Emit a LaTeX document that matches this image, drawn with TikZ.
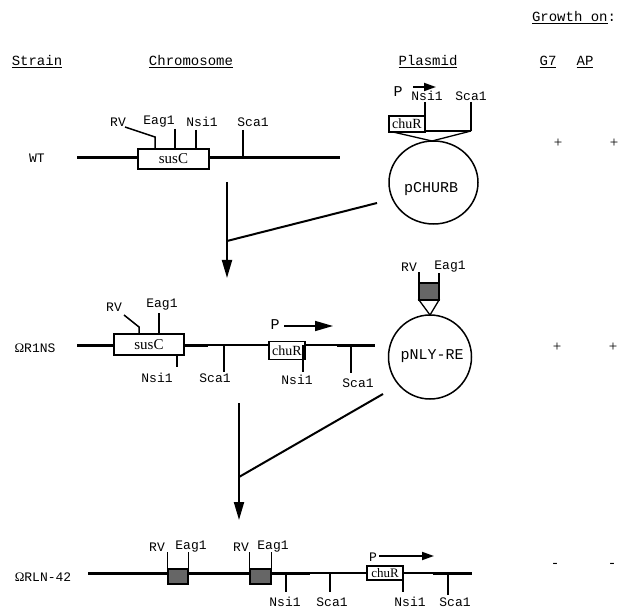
\documentclass[tikz,border=0pt]{standalone}
\usepackage{fontspec}
\setmainfont{Liberation Serif}
\setmonofont{Liberation Mono}
\usetikzlibrary{arrows.meta,shapes.geometric}
\begin{document}
\begin{tikzpicture}[x=1pt,y=-1pt,
  lbl/.style={font=\ttfamily\fontsize{13}{13}\selectfont, inner sep=0pt},
  hdr/.style={font=\ttfamily\fontsize{14}{14}\selectfont, inner sep=0pt},
  pname/.style={font=\ttfamily\fontsize{15}{15}\selectfont, inner sep=0pt},
  thickline/.style={line width=3pt},
  thinline/.style={line width=1.3pt},
  tickline/.style={line width=1.5pt},
  gbox/.style={draw, fill=white, line width=1.6pt, inner sep=0pt, font=\fontsize{15}{15}\selectfont},
  shadebox/.style={draw, fill=black!60, line width=1.3pt, inner sep=0pt},
  plasmid/.style={draw, ellipse, line width=1.5pt, inner sep=0pt, font=\ttfamily\fontsize{15}{15}\selectfont},
  flow/.style={line width=2pt},
  flowarrow/.style={line width=2pt, -{Triangle[length=18pt,width=10pt]}},
  parrow/.style={line width=1.8pt, -{Triangle[length=12pt,width=8pt]}},
  growth/.style={font=\fontsize{15}{15}\selectfont, inner sep=0pt}
]
\useasboundingbox (0,0) rectangle (636,609);

% ---------- header ----------
\node[hdr] (hgrowth) at (574,18) {\underline{Growth on}:};
\node[hdr] (hstrain) at (37,62) {\underline{Strain}};
\node[hdr] (hchrom) at (191,62) {\underline{Chromosome}};
\node[hdr] (hplas) at (428,62) {\underline{Plasmid}};
\node[hdr] (hg7) at (548,62) {\underline{G7}};
\node[hdr] (hap) at (585,62) {\underline{AP}};

% ---------- row 1: WT ----------
\node[lbl] (wt) at (37,158) {WT};
\coordinate (w1a) at (77,158);
\coordinate (w1b) at (340,158);
\draw[thickline] (w1a) -- (w1b);
\node[gbox, minimum width=71pt, minimum height=20pt] (sus1) at (173.5,159) {susC};
\coordinate (rv1a) at (125,127);
\coordinate (rv1b) at (155,137);
\coordinate (rv1c) at (155,149);
\draw[tickline] (rv1a) -- (rv1b) -- (rv1c);
\node[lbl] (rv1) at (118,122) {RV};
\coordinate (e1a) at (175,129); \coordinate (e1b) at (175,149);
\draw[tickline] (e1a) -- (e1b);
\node[lbl] (eag1) at (159,122) {Eag1};
\coordinate (n1a) at (196,130); \coordinate (n1b) at (196,149);
\draw[tickline] (n1a) -- (n1b);
\node[lbl] (nsi1) at (202,122) {Nsi1};
\coordinate (s1a) at (243,130); \coordinate (s1b) at (243,158);
\draw[tickline] (s1a) -- (s1b);
\node[lbl] (sca1) at (253,122) {Sca1};

% plasmid pCHURB
\node[plasmid, minimum width=89pt, minimum height=83pt] (p1) at (433.5,182.5) {};
\node[pname] (p1name) at (431,189) {pCHURB};
\coordinate (p1top) at (432,141);
\coordinate (c1a) at (425,131);
\coordinate (c1b) at (471,131);
\draw[thinline] (c1a) -- (c1b);
\coordinate (v1a) at (393,132);
\draw[thinline] (v1a) -- (p1top) -- (c1b);
\node[gbox, line width=2pt, minimum width=36pt, minimum height=16pt, font=\fontsize{14}{14}\selectfont] (chu1) at (407,124) {chuR};
\coordinate (pn1a) at (425,102);
\draw[tickline] (pn1a) -- (c1a);
\coordinate (ps1a) at (471,102);
\draw[tickline] (ps1a) -- (c1b);
\node[lbl] (pnsi1) at (427,96) {Nsi1};
\node[lbl] (psca1) at (471,96) {Sca1};
\node[pname] (pp1) at (398,92) {P};
\coordinate (pa1a) at (413,87); \coordinate (pa1b) at (436,87);
\draw[parrow] (pa1a) -- (pa1b);

% growth row 1
\node[growth] (g1a) at (558,143) {+};
\node[growth] (g1b) at (614,143) {+};

% arrow 1 and join
\coordinate (a1s) at (227,182);
\coordinate (a1e) at (227,278);
\draw[flowarrow] (a1s) -- (a1e);
\coordinate (j1) at (227,241);
\coordinate (j1p) at (377,203);
\draw[flow] (j1p) -- (j1);

% ---------- row 2: Omega R1NS ----------
\node[lbl] (r1ns) at (35,348) {{\rmfamily Ω}R1NS};
\coordinate (l2a) at (77,345);
\coordinate (l2b) at (208,345);
\coordinate (l2c) at (337,345);
\coordinate (l2d) at (375,345);
\draw[thickline] (l2a) -- (l2b);
\draw[thinline] (l2b) -- (l2c);
\draw[thickline] (l2c) -- (l2d);
\node[gbox, minimum width=70pt, minimum height=21pt] (sus2) at (149,344.5) {susC};
\coordinate (rv2a) at (124,315);
\coordinate (rv2b) at (139,327);
\coordinate (rv2c) at (139,334);
\draw[tickline] (rv2a) -- (rv2b) -- (rv2c);
\node[lbl] (rv2) at (114,307) {RV};
\coordinate (e2a) at (159,313); \coordinate (e2b) at (159,334);
\draw[tickline] (e2a) -- (e2b);
\node[lbl] (eag2) at (162,305) {Eag1};
\coordinate (n2a) at (177,355); \coordinate (n2b) at (177,367);
\draw[tickline] (n2a) -- (n2b);
\node[lbl] (nsi2) at (157,378) {Nsi1};
\coordinate (s2a) at (224,345); \coordinate (s2b) at (224,372);
\draw[tickline] (s2a) -- (s2b);
\node[lbl] (sca2) at (215,378) {Sca1};
\node[gbox, minimum width=36pt, minimum height=18pt, font=\fontsize{14}{14}\selectfont] (chu2) at (287,350.5) {chuR};
\coordinate (n2c) at (303,345); \coordinate (n2d) at (303,372);
\draw[tickline] (n2c) -- (n2d);
\node[lbl] (nsi2b) at (297,380) {Nsi1};
\coordinate (s2c) at (351,345); \coordinate (s2d) at (351,373);
\draw[tickline] (s2c) -- (s2d);
\node[lbl] (sca2b) at (358,383) {Sca1};
\node[pname] (pp2) at (275,325) {P};
\coordinate (pa2a) at (284,326); \coordinate (pa2b) at (333,326);
\draw[line width=1.6pt, -{Triangle[length=18pt,width=10pt]}] (pa2a) -- (pa2b);

% plasmid pNLY-RE
\node[plasmid, minimum width=83pt, minimum height=84pt] (p2) at (430,357) {};
\node[pname] (p2name) at (432,356) {pNLY-RE};
\coordinate (p2top) at (430,315);
\coordinate (ins1) at (419,300);
\coordinate (ins2) at (439,300);
\draw[thinline] (ins1) -- (p2top) -- (ins2) -- cycle;
\node[shadebox, minimum width=20pt, minimum height=17pt] (ins) at (429,291.5) {};
\coordinate (irva) at (419,272); \coordinate (irvb) at (419,300);
\coordinate (ieaa) at (439,273); \coordinate (ieab) at (439,300);
\draw[tickline] (irva) -- (irvb);
\draw[tickline] (ieaa) -- (ieab);
\node[lbl] (prv2) at (409,267) {RV};
\node[lbl] (peag2) at (450,267) {Eag1};

% growth row 2
\node[growth] (g2a) at (557,347) {+};
\node[growth] (g2b) at (613,347) {+};

% arrow 2 and join
\coordinate (a2s) at (239,403);
\coordinate (a2e) at (239,520);
\draw[flowarrow] (a2s) -- (a2e);
\coordinate (j2) at (239,477);
\coordinate (j2p) at (383,394);
\draw[flow] (j2p) -- (j2);

% ---------- row 3: Omega RLN-42 ----------
\node[lbl] (rln) at (43,577) {{\rmfamily Ω}RLN-42};
\coordinate (l3a) at (88,573);
\coordinate (l3b) at (310,573);
\coordinate (l3c) at (433,573);
\coordinate (l3d) at (472,573);
\draw[thickline] (l3a) -- (l3b);
\draw[thinline] (l3b) -- (l3c);
\draw[thickline] (l3c) -- (l3d);
\node[shadebox, minimum width=20pt, minimum height=15pt] (b1) at (178,576.5) {};
\node[shadebox, minimum width=21pt, minimum height=15pt] (b2) at (260.5,576.5) {};
\draw[tickline] (b1.north west) -- ++(0,-16);
\draw[tickline] (b1.north east) -- ++(0,-16);
\draw[tickline] (b2.north west) -- ++(0,-16);
\draw[tickline] (b2.north east) -- ++(0,-16);
\node[lbl] (rv3a) at (157,547) {RV};
\node[lbl] (eag3a) at (191,547) {Eag1};
\node[lbl] (rv3b) at (241,547) {RV};
\node[lbl] (eag3b) at (273,547) {Eag1};
\coordinate (n3a) at (286,573); \coordinate (n3b) at (286,592);
\draw[tickline] (n3a) -- (n3b);
\node[lbl] (nsi3a) at (285,602) {Nsi1};
\coordinate (s3a) at (330,573); \coordinate (s3b) at (330,592);
\draw[tickline] (s3a) -- (s3b);
\node[lbl] (sca3a) at (332,602) {Sca1};
\node[gbox, minimum width=36pt, minimum height=14pt, font=\fontsize{13}{13}\selectfont] (chu3) at (385,573) {chuR};
\coordinate (n3c) at (403,573); \coordinate (n3d) at (403,592);
\draw[tickline] (n3c) -- (n3d);
\node[lbl] (nsi3b) at (410,602) {Nsi1};
\coordinate (s3c) at (448,573); \coordinate (s3d) at (448,595);
\draw[tickline] (s3c) -- (s3d);
\node[lbl] (sca3b) at (455,602) {Sca1};
\node[lbl] (pp3) at (373,557) {P};
\coordinate (pa3a) at (379,556); \coordinate (pa3b) at (434,556);
\draw[parrow] (pa3a) -- (pa3b);

% growth row 3
\node[growth] (g3a) at (555,565) {-};
\node[growth] (g3b) at (612,565) {-};
\end{tikzpicture}
\end{document}
